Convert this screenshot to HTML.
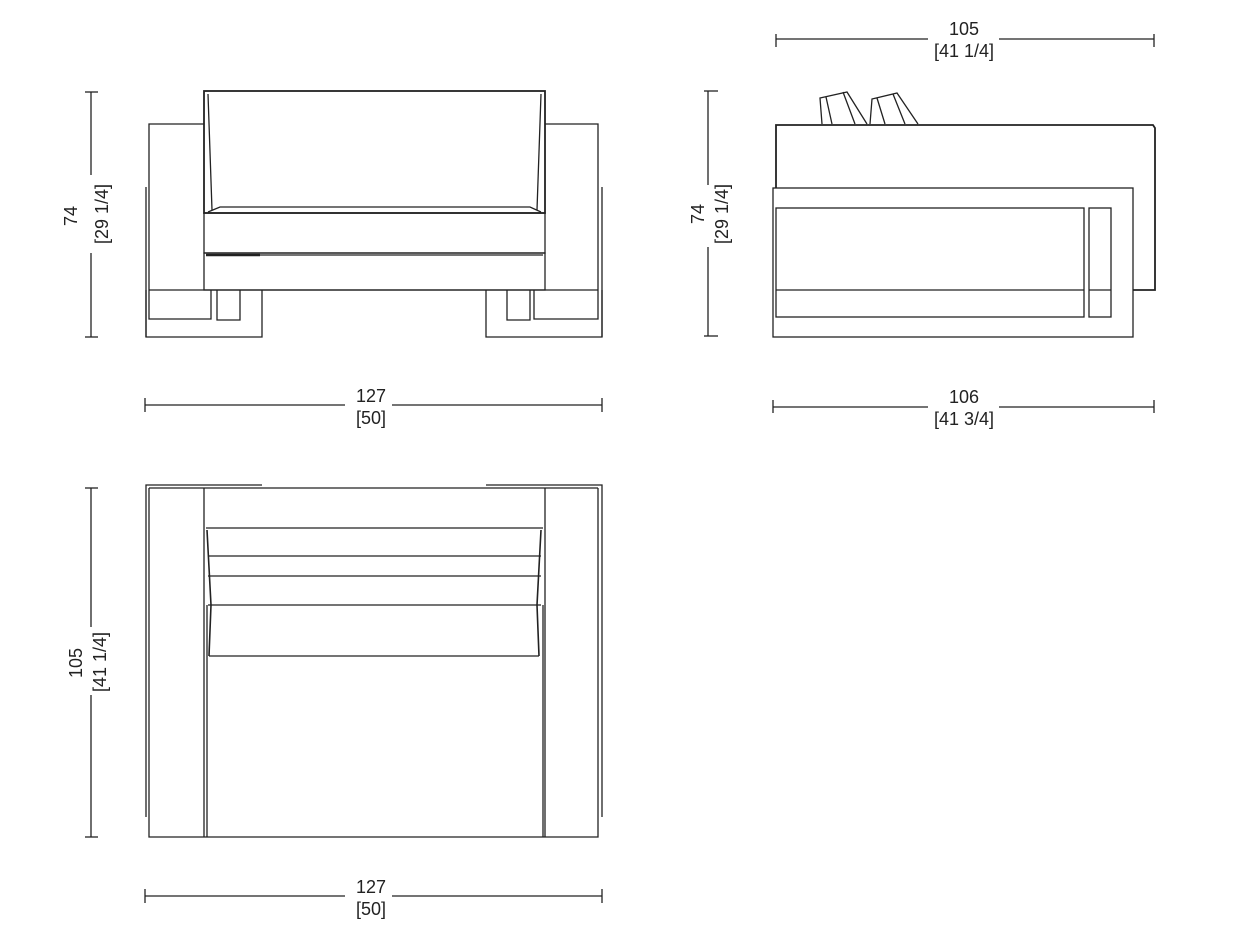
<!DOCTYPE html>
<html><head><meta charset="utf-8"><style>
html,body{margin:0;padding:0;background:#fff;}
svg{display:block;}
text{font-family:"Liberation Sans",sans-serif;font-size:18px;fill:#222;}
</style></head><body>
<svg width="1242" height="936" viewBox="0 0 1242 936" xmlns="http://www.w3.org/2000/svg">
<g fill="none" stroke="#222" stroke-width="1.3">
<!-- FRONT VIEW -->
<!-- vertical dim -->
<line x1="91" y1="92" x2="91" y2="175"/><line x1="91" y1="253" x2="91" y2="337"/>
<line x1="85" y1="92" x2="98" y2="92"/><line x1="85" y1="337" x2="98" y2="337"/>
<!-- back -->
<rect x="204" y="91" width="341" height="122" stroke-width="1.8"/>
<path d="M208 94 L212 210 M541 94 L537 210"/>
<path d="M208 212 L220 207 L530 207 L541 212"/>
<!-- arms -->
<path d="M204 124 L149 124 L149 290 M545 124 L598 124 L598 290"/>
<path d="M146 187 L146 337 M602 187 L602 337"/>
<!-- seat -->
<rect x="204" y="213" width="341" height="40"/>
<line x1="206" y1="255" x2="543" y2="255"/>
<line x1="206" y1="255" x2="260" y2="255" stroke-width="2.4"/>
<!-- base -->
<rect x="204" y="253" width="341" height="37"/>
<line x1="149" y1="290" x2="598" y2="290"/>
<!-- left foot -->
<path d="M146 290 L146 337 L262 337 L262 290"/>
<path d="M149 290 L149 319 L211 319 L211 290"/>
<path d="M217 290 L217 320 L240 320 L240 290"/>
<!-- right foot -->
<path d="M602 290 L602 337 L486 337 L486 290"/>
<path d="M598 290 L598 319 L534 319 L534 290"/>
<path d="M507 290 L507 320 L530 320 L530 290"/>
<!-- horizontal dim -->
<line x1="145" y1="405" x2="345" y2="405"/><line x1="392" y1="405" x2="602" y2="405"/>
<line x1="145" y1="398" x2="145" y2="412"/><line x1="602" y1="398" x2="602" y2="412"/>

<!-- SIDE VIEW -->
<line x1="776" y1="39" x2="928" y2="39"/><line x1="999" y1="39" x2="1154" y2="39"/>
<line x1="776" y1="34" x2="776" y2="47"/><line x1="1154" y1="34" x2="1154" y2="47"/>
<line x1="708" y1="91" x2="708" y2="185"/><line x1="708" y1="247" x2="708" y2="336"/>
<line x1="704" y1="91" x2="718" y2="91"/><line x1="704" y1="336" x2="718" y2="336"/>
<path d="M776 188 L776 125 L1153 125 L1155 128 L1155 290 L1133 290" stroke-width="1.8"/>
<rect x="773" y="188" width="360" height="149"/>
<rect x="776" y="208" width="308" height="109"/>
<line x1="776" y1="290" x2="1084" y2="290"/>
<rect x="1089" y="208" width="22" height="109"/>
<line x1="1089" y1="290" x2="1111" y2="290"/>
<path d="M822 124 L820 98 L847 92 L867 124 M826 97 L832 124 M843 92 L855 124"/>
<path d="M870 124 L872 99 L897 93 L918 124 M877 98 L885 124 M893 94 L905 124"/>
<line x1="773" y1="407" x2="928" y2="407"/><line x1="999" y1="407" x2="1154" y2="407"/>
<line x1="773" y1="400" x2="773" y2="413"/><line x1="1154" y1="400" x2="1154" y2="413"/>

<!-- TOP VIEW -->
<line x1="91" y1="488" x2="91" y2="627"/><line x1="91" y1="695" x2="91" y2="837"/>
<line x1="85" y1="488" x2="98" y2="488"/><line x1="85" y1="837" x2="98" y2="837"/>
<path d="M149 488 L598 488 M149 488 L149 837 L598 837 L598 488"/>
<path d="M146 817 L146 485 L262 485 M602 817 L602 485 L486 485"/>
<line x1="204" y1="488" x2="204" y2="837"/>
<line x1="545" y1="488" x2="545" y2="837"/>
<line x1="206" y1="528" x2="543" y2="528"/>
<line x1="208" y1="556" x2="541" y2="556"/>
<line x1="208" y1="576" x2="541" y2="576"/>
<line x1="208" y1="605" x2="541" y2="605"/>
<line x1="209" y1="656" x2="539" y2="656"/>
<path d="M207 530 L211 605 L209 656 M541 530 L537 605 L539 656" stroke-width="1.6"/>
<path d="M207 605 L207 837 M543 605 L543 837"/>
<line x1="145" y1="896" x2="345" y2="896"/><line x1="392" y1="896" x2="602" y2="896"/>
<line x1="145" y1="889" x2="145" y2="903"/><line x1="602" y1="889" x2="602" y2="903"/>
</g>
<g text-anchor="middle">
<text x="371" y="402">127</text><text x="371" y="424">[50]</text>
<text x="371" y="893">127</text><text x="371" y="915">[50]</text>
<text x="964" y="35">105</text><text x="964" y="57">[41 1/4]</text>
<text x="964" y="403">106</text><text x="964" y="425">[41 3/4]</text>
<text transform="translate(77,216) rotate(-90)">74</text>
<text transform="translate(108,214) rotate(-90)">[29 1/4]</text>
<text transform="translate(704,214) rotate(-90)">74</text>
<text transform="translate(728,214) rotate(-90)">[29 1/4]</text>
<text transform="translate(82,663) rotate(-90)">105</text>
<text transform="translate(106,662) rotate(-90)">[41 1/4]</text>
</g>
</svg>
</body></html>
